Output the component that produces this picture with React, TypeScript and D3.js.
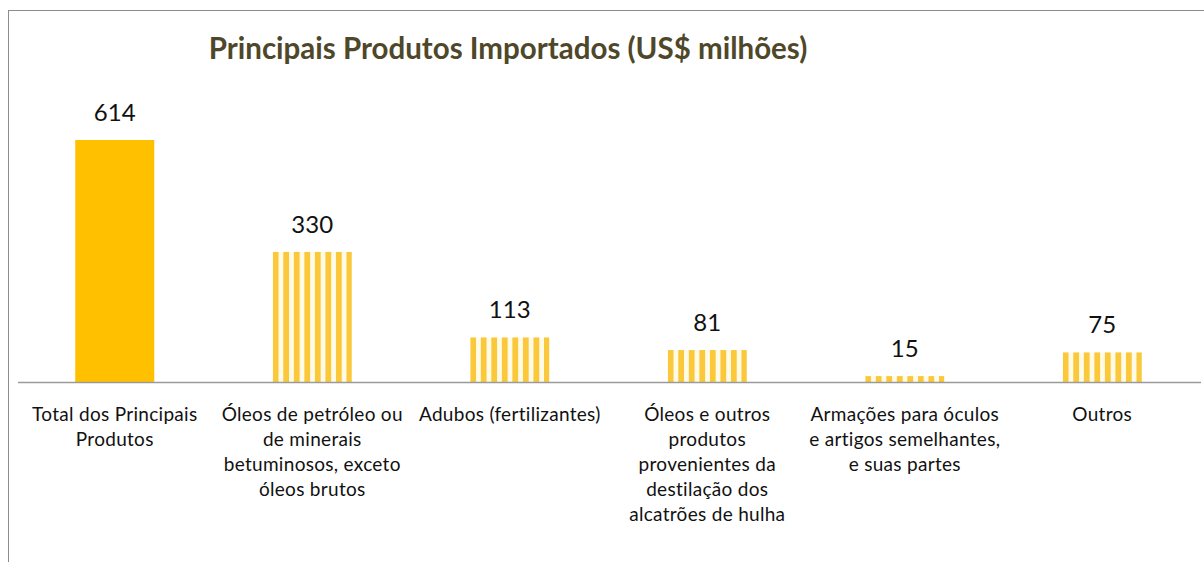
import { useEffect, useRef } from "react";
import * as d3 from "d3";

const categories = [
  ["Total dos Principais", "Produtos"],
  ["Óleos de petróleo ou", "de minerais", "betuminosos, exceto", "óleos brutos"],
  ["Adubos (fertilizantes)"],
  ["Óleos e outros", "produtos", "provenientes da", "destilação dos", "alcatrões de hulha"],
  ["Armações para óculos", "e artigos semelhantes,", "e suas partes"],
  ["Outros"],
];
const values = [614, 330, 113, 81, 15, 75];
const striped = [false, true, true, true, true, true];
const title = "Principais Produtos Importados (US$ milhões)";

const FONT = "Lato, 'Open Sans', sans-serif";

export default function App() {
  const ref = useRef<SVGSVGElement>(null);

  useEffect(() => {
    const width = 1204;
    const height = 562;
    const svg = d3.select(ref.current);
    svg.selectAll("*").remove();

    svg.append("rect").attr("width", width).attr("height", height).attr("fill", "#fff");

    // chart frame (right and bottom edges fall outside the picture)
    svg.append("rect")
      .attr("x", 8.5).attr("y", 10.5)
      .attr("width", 1220).attr("height", 600)
      .attr("fill", "none").attr("stroke", "#8c8c8c").attr("stroke-width", 1);

    svg.append("text")
      .attr("x", 508).attr("y", 59)
      .attr("text-anchor", "middle")
      .attr("font-family", FONT)
      .attr("font-weight", "bold")
      .attr("font-size", 29.5)
      .attr("fill", "#4f4729")
      .text(title);

    const baseY = 382;
    const x = d3.scaleBand<number>()
      .domain(d3.range(values.length))
      .range([16, 1201])
      .paddingInner(0.6)
      .paddingOuter(0.3);
    const y = d3.scaleLinear().domain([0, 614]).range([baseY, 140]);

    const defs = svg.append("defs");
    values.forEach((v, i) => {
      const w = x.bandwidth() / 7.5;
      const p = defs.append("pattern")
        .attr("id", `stripe-${i}`)
        .attr("patternUnits", "userSpaceOnUse")
        .attr("x", x(i)!)
        .attr("y", 0)
        .attr("width", w)
        .attr("height", 10);
      p.append("rect").attr("width", w).attr("height", 10).attr("fill", "#fffbe6");
      p.append("rect").attr("width", w * 0.55).attr("height", 10).attr("fill", "#fac83a");
    });

    svg.selectAll("rect.bar")
      .data(values)
      .enter()
      .append("rect")
      .attr("class", "bar")
      .attr("x", (_, i) => x(i)!)
      .attr("y", d => y(d))
      .attr("width", x.bandwidth())
      .attr("height", d => baseY - y(d))
      .attr("fill", (_, i) => (striped[i] ? `url(#stripe-${i})` : "#ffc000"));

    svg.append("line")
      .attr("x1", 18).attr("x2", 1201)
      .attr("y1", baseY + 0.5).attr("y2", baseY + 0.5)
      .attr("stroke", "#9a9a9a").attr("stroke-width", 1.5);

    svg.selectAll("text.val")
      .data(values)
      .enter()
      .append("text")
      .attr("class", "val")
      .attr("x", (_, i) => x(i)! + x.bandwidth() / 2)
      .attr("y", d => y(d) - 19)
      .attr("text-anchor", "middle")
      .attr("font-family", FONT)
      .attr("font-size", 24)
      .attr("fill", "#111")
      .text(d => d);

    categories.forEach((lines, i) => {
      const cx = x(i)! + x.bandwidth() / 2;
      const t = svg.append("text")
        .attr("text-anchor", "middle")
        .attr("font-family", FONT)
        .attr("font-size", 19)
        .attr("letter-spacing", 0.3)
        .attr("fill", "#111");
      lines.forEach((ln, j) => {
        t.append("tspan")
          .attr("x", cx)
          .attr("y", 421 + j * 25)
          .text(ln);
      });
    });
  }, []);

  return (
    <svg
      ref={ref}
      width={1204}
      height={562}
      style={{ position: "absolute", left: 0, top: 0, display: "block" }}
    />
  );
}
